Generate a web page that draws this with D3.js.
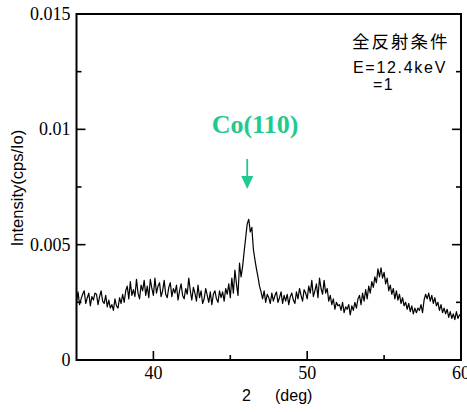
<!DOCTYPE html>
<html>
<head>
<meta charset="utf-8">
<script src="https://cdn.jsdelivr.net/npm/d3@7"></script>
<style>
  html, body { margin: 0; padding: 0; background: #fff; }
  svg { display: block; }
</style>
</head>
<body>
<div id="chart"></div>
<script>
// ---- data ----
const twoThetaStart = 35;   // deg
const twoThetaStep = 0.1;   // deg
const intensity = [
  0.00250,0.00295,0.00240,0.00265,0.00285,0.00300,0.00245,0.00270,0.00290,0.00235,0.00275,
  0.00260,0.00290,0.00285,0.00240,0.00275,0.00300,0.00255,0.00245,0.00280,0.00230,
  0.00260,0.00225,0.00240,0.00215,0.00265,0.00235,0.00225,0.00270,0.00245,0.00285,
  0.00250,0.00300,0.00320,0.00265,0.00340,0.00280,0.00305,0.00275,0.00350,0.00290,
  0.00265,0.00325,0.00300,0.00345,0.00280,0.00320,0.00270,0.00350,0.00310,0.00280,
  0.00355,0.00290,0.00320,0.00335,0.00275,0.00300,0.00345,0.00285,0.00270,0.00315,
  0.00335,0.00275,0.00310,0.00290,0.00325,0.00260,0.00300,0.00330,0.00280,0.00265,
  0.00310,0.00285,0.00355,0.00300,0.00260,0.00315,0.00290,0.00255,0.00325,0.00270,
  0.00300,0.00245,0.00265,0.00310,0.00280,0.00250,0.00295,0.00240,0.00285,0.00300,
  0.00265,0.00250,0.00300,0.00270,0.00295,0.00255,0.00310,0.00285,0.00330,0.00270,
  0.00355,0.00290,0.00390,0.00330,0.00280,0.00420,0.00360,0.00405,0.00470,0.00530,
  0.00590,0.00610,0.00555,0.00575,0.00480,0.00435,0.00395,0.00360,0.00320,0.00295,
  0.00265,0.00300,0.00250,0.00285,0.00270,0.00245,0.00290,0.00255,0.00280,0.00295,
  0.00250,0.00270,0.00295,0.00245,0.00280,0.00255,0.00285,0.00240,0.00275,0.00290,
  0.00260,0.00245,0.00295,0.00265,0.00310,0.00280,0.00255,0.00305,0.00290,0.00265,
  0.00320,0.00290,0.00345,0.00275,0.00300,0.00330,0.00270,0.00355,0.00310,0.00285,
  0.00345,0.00290,0.00310,0.00255,0.00280,0.00240,0.00265,0.00220,0.00250,0.00235,
  0.00240,0.00215,0.00250,0.00205,0.00230,0.00220,0.00240,0.00195,0.00235,0.00215,
  0.00250,0.00225,0.00265,0.00280,0.00240,0.00290,0.00255,0.00305,0.00265,0.00320,
  0.00290,0.00340,0.00315,0.00360,0.00335,0.00395,0.00360,0.00400,0.00355,0.00380,
  0.00330,0.00355,0.00300,0.00325,0.00285,0.00310,0.00265,0.00300,0.00260,0.00285,
  0.00245,0.00270,0.00235,0.00250,0.00220,0.00245,0.00210,0.00235,0.00200,0.00225,
  0.00205,0.00225,0.00215,0.00240,0.00205,0.00260,0.00285,0.00265,0.00290,0.00255,
  0.00280,0.00245,0.00270,0.00235,0.00250,0.00215,0.00240,0.00205,0.00225,0.00200,
  0.00220,0.00185,0.00210,0.00180,0.00200,0.00175,0.00210,0.00180,0.00195,0.00200
];
const xDomain = [35, 60];
const yDomain = [0, 0.015];
const xMajorTicks = [40, 50, 60];
const xMinorTicks = [45, 55];
const yMajorTicks = [0, 0.005, 0.01, 0.015];
const yTickLabels = ["0", "0.005", "0.01", "0.015"];
const yMinorTicks = [0.0025, 0.0075, 0.0125];
const peakLabel = "Co(110)";
const peakPosition = 46.1;
const noteLines = ["全反射条件", "E=12.4keV", "=1"];

// ---- layout ----
const W = 467, H = 412;
const m = { left: 76.5, right: 6, top: 14, bottom: 52 };
const svg = d3.select("#chart").append("svg").attr("width", W).attr("height", H);
const x = d3.scaleLinear().domain(xDomain).range([m.left, W - m.right]);
const y = d3.scaleLinear().domain(yDomain).range([H - m.bottom, m.top]);
const data = intensity.map((v, i) => ({ t: twoThetaStart + i * twoThetaStep, v }));

const serif = "'Liberation Serif','Times New Roman',serif";
const sans = "'Liberation Sans',Arial,sans-serif";

// curve
svg.append("path")
  .datum(data)
  .attr("fill", "none")
  .attr("stroke", "#000")
  .attr("stroke-width", 1.2)
  .attr("stroke-linejoin", "round")
  .attr("d", d3.line().x(d => x(d.t)).y(d => y(d.v)));

// frame
svg.append("rect")
  .attr("x", x(xDomain[0])).attr("y", y(yDomain[1]))
  .attr("width", x(xDomain[1]) - x(xDomain[0]))
  .attr("height", y(yDomain[0]) - y(yDomain[1]))
  .attr("fill", "none").attr("stroke", "#000").attr("stroke-width", 2);

// ticks
const g = svg.append("g").attr("stroke", "#000").attr("stroke-width", 1.6);
yMajorTicks.forEach(v => {
  g.append("line").attr("x1", x(xDomain[0])).attr("x2", x(xDomain[0]) + 9).attr("y1", y(v)).attr("y2", y(v));
  g.append("line").attr("x1", x(xDomain[1])).attr("x2", x(xDomain[1]) - 9).attr("y1", y(v)).attr("y2", y(v));
});
yMinorTicks.forEach(v => {
  g.append("line").attr("x1", x(xDomain[0])).attr("x2", x(xDomain[0]) + 5).attr("y1", y(v)).attr("y2", y(v));
  g.append("line").attr("x1", x(xDomain[1])).attr("x2", x(xDomain[1]) - 5).attr("y1", y(v)).attr("y2", y(v));
});
xMajorTicks.forEach(v => {
  g.append("line").attr("x1", x(v)).attr("x2", x(v)).attr("y1", y(0)).attr("y2", y(0) - 9);
});
xMinorTicks.forEach(v => {
  g.append("line").attr("x1", x(v)).attr("x2", x(v)).attr("y1", y(0)).attr("y2", y(0) - 5);
});

// tick labels
yMajorTicks.forEach((v, i) => {
  svg.append("text").attr("x", x(xDomain[0]) - 6).attr("y", y(v) + 6)
    .attr("text-anchor", "end").attr("font-family", serif).attr("font-size", 18)
    .text(yTickLabels[i]);
});
xMajorTicks.forEach(v => {
  svg.append("text").attr("x", x(v)).attr("y", y(0) + 19)
    .attr("text-anchor", "middle").attr("font-family", serif).attr("font-size", 18)
    .text(d3.format("d")(v));
});

// axis titles
svg.append("text").attr("transform", `translate(23,${188}) rotate(-90)`)
  .attr("text-anchor", "middle").attr("font-family", sans).attr("font-size", 16.5)
  .text("Intensity(cps/Io)");
svg.append("text").attr("x", 242).attr("y", 401)
  .attr("font-family", sans).attr("font-size", 16)
  .text("2");
svg.append("text").attr("x", 275).attr("y", 401)
  .attr("font-family", sans).attr("font-size", 16)
  .text("(deg)");

// annotation
svg.append("text").attr("x", 352).attr("y", 48)
  .attr("font-family", "'Noto Sans CJK JP','Noto Sans CJK SC',sans-serif").attr("font-size", 17.5)
  .attr("letter-spacing", 2).text(noteLines[0]);
svg.append("text").attr("x", 353).attr("y", 73)
  .attr("font-family", sans).attr("font-size", 16).attr("letter-spacing", 1.7)
  .text(noteLines[1]);
svg.append("text").attr("x", 373).attr("y", 90)
  .attr("font-family", sans).attr("font-size", 16).attr("letter-spacing", 1.5)
  .text(noteLines[2]);

// peak label + arrow
const green = "#1fc98f";
svg.append("text").attr("x", 255).attr("y", 133)
  .attr("text-anchor", "middle").attr("font-family", serif).attr("font-weight", "bold")
  .attr("font-size", 26).attr("fill", green).text(peakLabel);
const ax = x(peakPosition);
svg.append("line").attr("x1", ax).attr("x2", ax).attr("y1", 159).attr("y2", 178)
  .attr("stroke", green).attr("stroke-width", 1.8);
svg.append("path")
  .attr("d", `M${ax - 6},176 L${ax + 6},176 L${ax},189 Z`)
  .attr("fill", green);
</script>
</body>
</html>
